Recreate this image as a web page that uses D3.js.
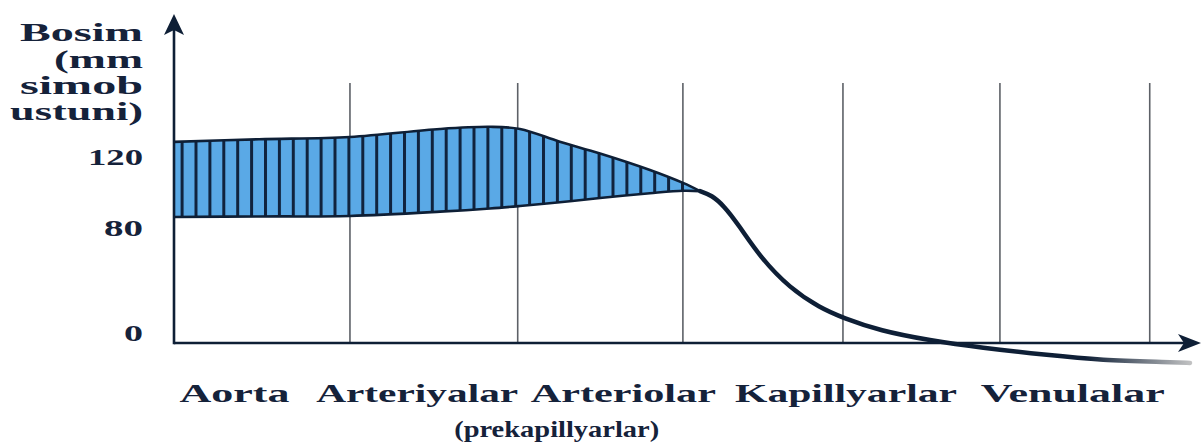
<!DOCTYPE html>
<html><head><meta charset="utf-8">
<script src="https://cdn.jsdelivr.net/npm/d3@7"></script>
<style>body{margin:0;background:#fff}svg{display:block}</style></head>
<body>
<svg id="c" width="1201" height="443"></svg>
<script>
// ---- data ----
const categories   = ["Aorta", "Arteriyalar", "Arteriolar", "Kapillyarlar", "Venulalar"];
const categoryPos  = [5.9, 23.7, 43.8, 65.5, 87.6];          // position along vessel tree (units)
const subLabel     = "(prekapillyarlar)";
const subLabelPos  = 37.3;
const gridPos      = [17.15, 33.5, 49.6, 65.2, 80.5, 95.1];
const yTicks       = [0, 80, 120];
const yTitle       = ["Bosim", "(mm", "simob", "ustuni)"];

const bandX     = [0, 8.28, 17.15, 25.93, 30.8, 33.72, 37.6, 41.52, 46.39, 49.61, 51.27];
const systolic  = [128.5, 130, 131.3, 135.8, 137, 135.8, 128.6, 122, 112.7, 105.4, 100.8];
const diastolic = [86.2, 86.5, 86.8, 89.2, 91, 92.4, 94.5, 96.9, 99.6, 101, 100.8];

const tailX     = [51.27, 52.4, 53.6, 55.0, 57.12, 60.04, 62.96, 65.2, 68.81, 73.68, 78.56, 85.38, 90.25, 97.08, 99.03];
const tailP     = [100.8, 98.5, 92.5, 82.0, 59.8, 38, 24.5, 17.5, 8.5, 1.8, -3.2, -8.6, -11.9, -13.3, -13.9];

// ---- scales ----
const svg = d3.select("#c");
const x = d3.scaleLinear().domain([0, 100]).range([174, 1200]);
const y = d3.scaleLinear().domain([0, 80, 120]).range([343, 228, 157]);

const navy = "#0e1f36";
const textCol = "#15223a";
const font = "'Liberation Serif', 'Times New Roman', serif";
const curve = d3.curveCatmullRom.alpha(0.5);

// stripes pattern
const defs = svg.append("defs");
const pat = defs.append("pattern").attr("id", "stripes")
  .attr("patternUnits", "userSpaceOnUse").attr("width", 13.9).attr("height", 400)
  .attr("x", 194.5).attr("y", 0);
pat.append("rect").attr("width", 13.9).attr("height", 400).attr("fill", "#5aa9e6");
pat.append("rect").attr("width", 3).attr("height", 400).attr("fill", "#10233e");

const grad = defs.append("linearGradient").attr("id", "fade")
  .attr("gradientUnits", "userSpaceOnUse")
  .attr("x1", x(51)).attr("x2", x(99.5)).attr("y1", 0).attr("y2", 0);
grad.append("stop").attr("offset", "0").attr("stop-color", navy);
grad.append("stop").attr("offset", "0.78").attr("stop-color", navy);
grad.append("stop").attr("offset", "1").attr("stop-color", "#c8c8c8");

// gridlines
svg.append("g").selectAll("line").data(gridPos).join("line")
  .attr("x1", d => x(d)).attr("x2", d => x(d))
  .attr("y1", y(161.7)).attr("y2", y(0))
  .attr("stroke", "#5d6167").attr("stroke-width", 1.6);

// band
const bandData = bandX.map((v, i) => ({x: v, hi: systolic[i], lo: diastolic[i]}));
const area = d3.area().curve(curve)
  .x(d => x(d.x)).y0(d => y(d.lo)).y1(d => y(d.hi));
svg.append("path").datum(bandData).attr("d", area).attr("fill", "url(#stripes)");

const lineHi = d3.line().curve(curve).x(d => x(d.x)).y(d => y(d.hi));
const lineLo = d3.line().curve(curve).x(d => x(d.x)).y(d => y(d.lo));
svg.append("path").datum(bandData).attr("d", lineHi).attr("fill", "none")
  .attr("stroke", navy).attr("stroke-width", 2.6);
svg.append("path").datum(bandData).attr("d", lineLo).attr("fill", "none")
  .attr("stroke", navy).attr("stroke-width", 2.6);

// tail
const tailData = tailX.map((v, i) => ({x: v, p: tailP[i]}));
const tailLine = d3.line().curve(d3.curveBasis).x(d => x(d.x)).y(d => y(d.p));
svg.append("path").datum(tailData).attr("d", tailLine).attr("fill", "none")
  .attr("stroke", "url(#fade)").attr("stroke-width", 4.5).attr("stroke-linecap", "round");

// axes
svg.append("line").attr("x1", x(0)).attr("x2", 1185).attr("y1", y(0)).attr("y2", y(0))
  .attr("stroke", navy).attr("stroke-width", 2.6);
svg.append("line").attr("x1", x(0)).attr("x2", x(0)).attr("y1", 28).attr("y2", y(0) + 1.3)
  .attr("stroke", navy).attr("stroke-width", 2.6);
svg.append("path").attr("d", `M${x(0)},14 L${x(0)-10},35 L${x(0)},30 L${x(0)+10},35 Z`).attr("fill", navy);
svg.append("path").attr("d", `M1201,${y(0)} L1178,${y(0)-9} L1184,${y(0)} L1178,${y(0)+9} Z`).attr("fill", navy);

// y tick labels
const tickW = {0: 19, 80: 39, 120: 55};
svg.append("g").selectAll("text").data(yTicks).join("text")
  .attr("x", 143).attr("y", d => y(d) + (d === 0 ? -2 : 8))
  .attr("text-anchor", "end")
  .attr("font-family", font).attr("font-weight", "bold").attr("font-size", 24)
  .attr("fill", textCol)
  .attr("textLength", d => tickW[d]).attr("lengthAdjust", "spacingAndGlyphs")
  .text(d => d);

// y title
const titleW = [123, 89, 123, 133];
const titleY = [41, 68, 94, 120];
svg.append("g").selectAll("text").data(yTitle).join("text")
  .attr("x", 143).attr("y", (d, i) => titleY[i])
  .attr("text-anchor", "end")
  .attr("font-family", font).attr("font-weight", "bold").attr("font-size", 25)
  .attr("fill", textCol)
  .attr("textLength", (d, i) => titleW[i]).attr("lengthAdjust", "spacingAndGlyphs")
  .text(d => d);

// category labels
const catW = [110, 202, 185, 222, 184];
svg.append("g").selectAll("text").data(categories).join("text")
  .attr("x", (d, i) => x(categoryPos[i])).attr("y", 402)
  .attr("text-anchor", "middle")
  .attr("font-family", font).attr("font-weight", "bold").attr("font-size", 26)
  .attr("fill", textCol)
  .attr("textLength", (d, i) => catW[i]).attr("lengthAdjust", "spacingAndGlyphs")
  .text(d => d);
svg.append("text").attr("x", x(subLabelPos)).attr("y", 437)
  .attr("text-anchor", "middle")
  .attr("font-family", font).attr("font-weight", "bold").attr("font-size", 23)
  .attr("fill", textCol)
  .attr("textLength", 205).attr("lengthAdjust", "spacingAndGlyphs")
  .text(subLabel);
</script>
</body></html>
